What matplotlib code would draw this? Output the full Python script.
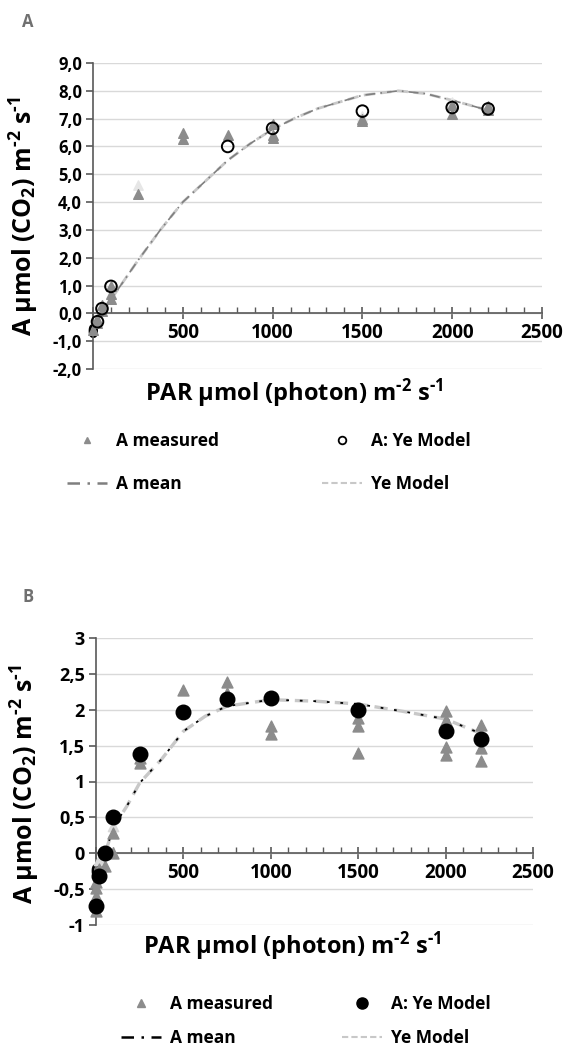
import matplotlib
matplotlib.use("Agg")
import matplotlib.pyplot as plt
from matplotlib.lines import Line2D
from matplotlib.ticker import MultipleLocator, FuncFormatter

FONT = 'Open Sans'
plt.rcParams['font.family'] = [FONT, 'DejaVu Sans']
plt.rcParams['font.weight'] = 'bold'
plt.rcParams['mathtext.fontset'] = 'custom'
plt.rcParams['mathtext.rm'] = FONT + ':bold'
plt.rcParams['mathtext.bf'] = FONT + ':bold'
plt.rcParams['mathtext.it'] = FONT + ':bold'
plt.rcParams['mathtext.default'] = 'bf'

# ---------------- Panel A data ----------------
A_meas_par = [0, 25, 25, 50, 50, 100, 100, 100, 250, 500, 500, 750, 1000, 1000, 1000, 1500, 1500, 2000, 2000, 2200, 2200]
A_meas_val = [-0.6, -0.35, -0.2, 0.3, 0.1, 0.5, 0.7, 1.0, 4.3, 6.5, 6.25, 6.4, 6.8, 6.4, 6.3, 7.0, 6.9, 7.15, 7.5, 7.3, 7.45]
A_faded_par = [250, 1500, 2000]
A_faded_val = [4.6, 7.1, 7.6]
A_ye_par = [25, 50, 100, 750, 1000, 1500, 2000, 2200]
A_ye_val = [-0.3, 0.17, 0.97, 6.0, 6.65, 7.27, 7.4, 7.35]
A_line_par = [0, 50, 100, 175, 250, 375, 500, 625, 750, 875, 1000, 1125, 1250, 1500, 1700, 1850, 2000, 2200]
A_mean_line = [-0.45, 0.03, 0.5, 1.2, 1.9, 3.0, 4.0, 4.75, 5.5, 6.1, 6.62, 7.02, 7.36, 7.84, 8.0, 7.9, 7.66, 7.3]
A_ye_line = [-0.45, 0.03, 0.5, 1.2, 1.9, 3.0, 4.0, 4.75, 5.5, 6.1, 6.62, 7.02, 7.36, 7.84, 8.0, 7.9, 7.66, 7.3]

# ---------------- Panel B data ----------------
B_meas_par = [0, 0, 0, 0, 20, 20, 50, 100, 100, 250, 250, 500, 750, 750, 750, 1000, 1000,
              1500, 1500, 1500, 2000, 2000, 2000, 2000, 2200, 2200, 2200]
B_meas_val = [-0.8, -0.6, -0.48, -0.4, -0.22, -0.3, -0.18, 0.28, 0.0, 1.26, 1.33, 2.28, 2.38, 2.24, 2.18, 1.78, 1.66,
              1.88, 1.77, 1.40, 1.98, 1.86, 1.48, 1.37, 1.79, 1.47, 1.28]
B_faded_par = [100, 20]
B_faded_val = [0.38, -0.1]
B_ye_par = [0, 20, 50, 100, 250, 500, 750, 1000, 1500, 2000, 2200]
B_ye_val = [-0.73, -0.32, 0.0, 0.5, 1.39, 1.97, 2.15, 2.17, 2.0, 1.71, 1.59]
B_line_par = [0, 25, 50, 100, 175, 250, 375, 500, 625, 750, 1000, 1250, 1500, 1750, 2000, 2200]
B_mean_line = [-0.75, -0.35, -0.02, 0.37, 0.65, 0.98, 1.31, 1.70, 1.91, 2.05, 2.14, 2.12, 2.08, 1.98, 1.87, 1.67]
B_ye_line = [-0.75, -0.35, -0.02, 0.37, 0.65, 0.98, 1.31, 1.70, 1.91, 2.05, 2.14, 2.12, 2.08, 1.98, 1.87, 1.67]

A_yticks = [-2, -1, 0, 1, 2, 3, 4, 5, 6, 7, 8, 9]
B_yticks = [-1, -0.5, 0, 0.5, 1, 1.5, 2, 2.5, 3]
x_ticks = [0, 500, 1000, 1500, 2000, 2500]

W, H = 565, 1046
fig = plt.figure(figsize=(W / 100, H / 100), dpi=100)

TRI = '#8c8c8c'
GRID = '#d9d9d9'
SPINE = '#595959'
YE_LINE = '#c8c8c8'

def box(l, t, r, b):
    return [l / W, 1 - b / H, (r - l) / W, (b - t) / H]

def style(ax, ymin, ymax, yticks, fmt, ysize):
    ax.set_xlim(0, 2500)
    ax.set_ylim(ymin, ymax)
    for s in ['top', 'right']:
        ax.spines[s].set_visible(False)
    ax.spines['bottom'].set_position(('data', 0))
    ax.spines['bottom'].set_color(SPINE)
    ax.spines['left'].set_color(SPINE)
    ax.spines['bottom'].set_linewidth(1.2)
    ax.spines['left'].set_linewidth(1.2)
    ax.set_yticks(yticks)
    ax.yaxis.set_major_formatter(FuncFormatter(fmt))
    ax.set_xticks(x_ticks)
    ax.xaxis.set_minor_locator(MultipleLocator(100))
    ax.tick_params(axis='x', which='major', direction='inout', length=8, width=1.2, color=SPINE,
                   labelsize=13.5, pad=3)
    ax.tick_params(axis='x', which='minor', direction='in', length=4, width=1.0, color=SPINE)
    ax.tick_params(axis='y', which='major', direction='out', length=5, width=1.2, color=SPINE,
                   labelsize=ysize, pad=3)
    ax.yaxis.grid(True, color=GRID, lw=1.0)
    ax.set_axisbelow(True)
    for lab in ax.get_xticklabels() + ax.get_yticklabels():
        lab.set_fontweight('bold')

def fmtA(v, p):
    return ('%.1f' % v).replace('.', ',')

def fmtB(v, p):
    if abs(v - round(v)) < 1e-9:
        return '%d' % round(v)
    return ('%.1f' % v).replace('.', ',')

ylab = r'A µmol (CO$_2$) m$^{\text{-}2}$ s$^{\text{-}1}$'
xlab = r'PAR µmol (photon) m$^{\text{-}2}$ s$^{\text{-}1}$'

# ---------------- Panel A ----------------
axA = fig.add_axes(box(93, 63, 542, 369))
style(axA, -2, 9, A_yticks, fmtA, 12)
axA.plot(A_line_par, A_ye_line, color=YE_LINE, lw=2.0, ls=(0, (4, 2)), zorder=2)
axA.plot(A_line_par, A_mean_line, color='#7f7f7f', lw=1.2, ls=(0, (6, 3, 1, 3)), zorder=3)
axA.scatter(A_faded_par, A_faded_val, marker='^', s=45, color='#e6e6e6', zorder=3)
axA.scatter(A_meas_par, A_meas_val, marker='^', s=48, color=TRI, zorder=4, clip_on=False)
axA.scatter(A_ye_par, A_ye_val, marker='o', s=70, facecolors='none', edgecolors='black',
            linewidths=1.4, zorder=5, clip_on=False)
axA.set_ylabel(ylab, fontsize=18, fontweight='bold')
axA.yaxis.set_label_coords(-0.115, 0.5)
fig.text(294 / W, 1 - 393 / H, xlab, fontsize=17, fontweight='bold', ha='center', va='center')
fig.text(22 / W, 1 - 22 / H, 'A', fontsize=12, fontweight='bold', color='#707070', ha='left', va='center')

# ---------------- Panel B ----------------
axB = fig.add_axes(box(96, 638, 533, 925))
style(axB, -1, 3, B_yticks, fmtB, 13)
axB.plot(B_line_par, B_ye_line, color=YE_LINE, lw=2.4, ls=(0, (4, 2)), zorder=2)
axB.plot(B_line_par, B_mean_line, color='black', lw=1.3, ls=(0, (1.5, 6)), zorder=3)
axB.scatter(B_faded_par, B_faded_val, marker='^', s=55, color='#d9d9d9', zorder=3, clip_on=False)
axB.scatter(B_meas_par, B_meas_val, marker='^', s=62, color=TRI, zorder=4, clip_on=False)
axB.scatter(B_ye_par, B_ye_val, marker='o', s=110, color='black', zorder=5, clip_on=False)
axB.set_ylabel(ylab, fontsize=18, fontweight='bold')
axB.yaxis.set_label_coords(-0.123, 0.49)
fig.text(292 / W, 1 - 946 / H, xlab, fontsize=17, fontweight='bold', ha='center', va='center')
fig.text(23 / W, 1 - 597 / H, 'B', fontsize=12, fontweight='bold', color='#707070', ha='left', va='center')

# ---------------- Legends ----------------
def legend_col(handles, labels, x, y, spacing):
    leg = fig.legend(handles, labels, loc='upper left', bbox_to_anchor=(x / W, 1 - y / H),
                     frameon=False, fontsize=12.5, handlelength=2.3, handletextpad=0.5,
                     labelspacing=spacing, borderaxespad=0, borderpad=0)
    for t in leg.get_texts():
        t.set_fontweight('bold')
    return leg

hA_meas = Line2D([], [], marker='^', ls='none', color=TRI, markersize=5)
hA_mean = Line2D([], [], color='#7f7f7f', lw=1.8, ls=(0, (5, 3, 1, 3)))
hA_ye = Line2D([], [], marker='o', ls='none', markerfacecolor='none', markeredgecolor='black',
               markersize=5.5, markeredgewidth=1.3)
hA_yel = Line2D([], [], color=YE_LINE, lw=1.5, ls=(0, (3, 1.5)))
legend_col([hA_meas, hA_mean], ['A measured', 'A mean'], 67, 432, 1.45)
legend_col([hA_ye, hA_yel], ['A: Ye Model', 'Ye Model'], 322, 432, 1.45)

hB_meas = Line2D([], [], marker='^', ls='none', color=TRI, markersize=6)
hB_mean = Line2D([], [], color='black', lw=1.8, ls=(0, (5, 3, 1, 3)))
hB_ye = Line2D([], [], marker='o', ls='none', color='black', markersize=8)
hB_yel = Line2D([], [], color=YE_LINE, lw=1.5, ls=(0, (3, 1.5)))
legend_col([hB_meas, hB_mean], ['A measured', 'A mean'], 121, 995, 0.95)
legend_col([hB_ye, hB_yel], ['A: Ye Model', 'Ye Model'], 342, 995, 0.95)

fig.savefig('out.png', dpi=100)
